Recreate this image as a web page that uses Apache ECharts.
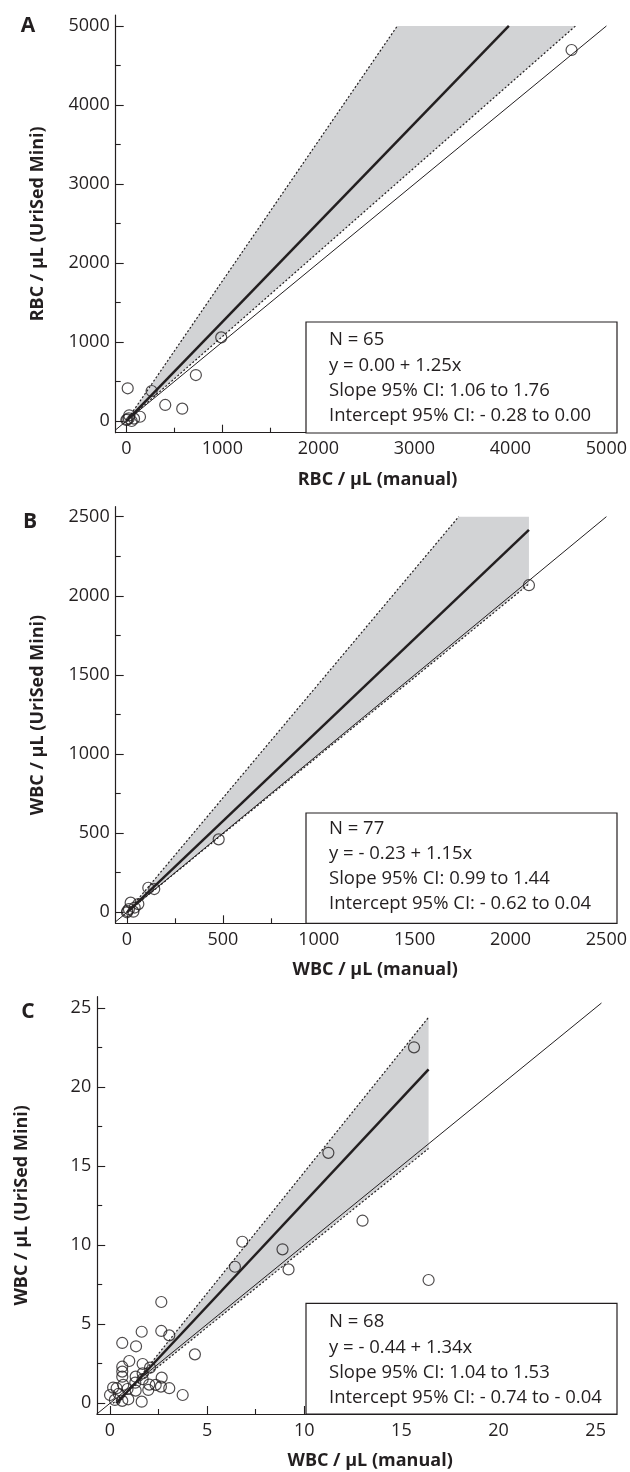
<!DOCTYPE html>
<html>
<head>
<meta charset="utf-8">
<title>UriSed Mini vs manual</title>
<script src="https://cdn.jsdelivr.net/npm/echarts@6/dist/echarts.min.js"></script>
<style>
  html, body { margin: 0; padding: 0; background: #fff; }
  #chart { width: 630px; height: 1472px; }
</style>
</head>
<body>
<div id="chart"></div>
<script>
// ---- data ----
// panel A: RBC
var rbcManual = [0, 55, 30, 142, 14, 263, 405, 582, 724, 988, 4637, 10, 25, 80];
var rbcMini = [13, 0, 72, 54, 414, 380, 203, 156, 582, 1059, 4696, 20, 35, 30];
var rbcReg = [[0, 0], [3984, 5000]];
var rbcUpper = [[0, 0], [2822, 5000]];
var rbcLower = [[0, 0], [4678, 5000]];
var rbcBand = [[0, 0], [2822, 5000], [4678, 5000]];
var rbcIdentity = [[-200, -200], [5000, 5000]];

// panel B: WBC
var wbcManual = [0, 2, 33, 19, 59, 111, 142, 478, 2096, 10, 40];
var wbcMini = [0, 8, 4, 61, 52, 155, 147, 461, 2067, 20, 30];
var wbcReg = [[0, 0], [2096, 2417]];
var wbcUpper = [[0, 0], [1730, 2500]];
var wbcLower = [[0, 0], [2096, 2075]];
var wbcBand = [[0, 0], [1730, 2500], [2096, 2500], [2096, 2075]];
var wbcIdentity = [[-100, -100], [2500, 2500]];

// panel C: WBC, low range
var wbcLowManual = [15.65, 11.24, 13.0, 16.4, 6.81, 6.43, 8.88, 9.19, 4.37, 2.64, 1.63, 2.64, 3.05,
  0.63, 1.34, 0.99, 1.68, 2.06, 0.63, 0.63, 0.63, 1.32, 1.68, 1.68, 2.66, 0.68, 2.02, 2.35, 2.62,
  3.05, 1.97, 1.32, 0.34, 0.16, 0, 0.94, 0.63, 0.25, 1.63, 3.74, 0.45, 1.3, 0.9];
var wbcLowMini = [22.5, 15.83, 11.54, 7.79, 10.21, 8.63, 9.73, 8.46, 3.09, 6.4, 4.52, 4.57, 4.29,
  3.81, 3.6, 2.67, 2.48, 2.25, 2.31, 2.0, 1.68, 1.68, 1.89, 1.52, 1.62, 1.16, 1.18, 1.16, 1.05,
  0.95, 0.84, 0.80, 0.95, 0.99, 0.52, 0.25, 0.15, 0.21, 0.1, 0.52, 0.6, 1.3, 0.9];
var lowReg = [[0.33, 0], [16.4, 21.1]];
var lowUpper = [[0.45, 0], [16.4, 24.4]];
var lowLower = [[0.15, 0], [16.4, 16.1]];
var lowBand = [[0.45, 0], [16.4, 24.4], [16.4, 16.1], [0.15, 0]];
var lowIdentity = [[-1, -1], [25.3, 25.3]];

// ticks
var ticksA = [0, 1000, 2000, 3000, 4000, 5000];
var minorA = [500, 1500, 2500, 3500, 4500];
var ticksB = [0, 500, 1000, 1500, 2000, 2500];
var minorB = [250, 750, 1250, 1750, 2250];
var ticksC = [0, 5, 10, 15, 20, 25];
var minorC = [2.5, 7.5, 12.5, 17.5, 22.5];

var statsA = ['N = 65', 'y = 0.00 + 1.25x', 'Slope 95% CI: 1.06 to 1.76', 'Intercept 95% CI: - 0.28 to 0.00'];
var statsB = ['N = 77', 'y = - 0.23 + 1.15x', 'Slope 95% CI: 0.99 to 1.44', 'Intercept 95% CI: - 0.62 to 0.04'];
var statsC = ['N = 68', 'y = - 0.44 + 1.34x', 'Slope 95% CI: 1.04 to 1.53', 'Intercept 95% CI: - 0.74 to - 0.04'];

var ink = '#231f20';
var bandColor = '#d2d3d5';
var font = 'Open Sans';

function zip(a, b) {
  var out = [];
  for (var i = 0; i < a.length; i++) {
    out.push([a[i], b[i]]);
  }
  return out;
}

// main axis (line, labels, long ticks) + a second one for the short ticks
function axes(dim, g, min, max, majors, minors, name, nameGap, pad, margin) {
  var pos = dim == 'x' ? 'bottom' : 'left';
  var padding = dim == 'x' ? [0, 0, 0, pad] : [0, 0, 0, 0];
  return [{
    type: 'value', gridIndex: g, min: min, max: max, position: pos,
    axisLine: { show: true, onZero: false, lineStyle: { color: ink, width: 1.2 } },
    axisTick: { show: true, inside: true, length: 8, customValues: majors, lineStyle: { color: ink, width: 1.1 } },
    axisLabel: {
      show: true, customValues: majors, margin: margin, color: ink, fontFamily: font, fontSize: 18,
      formatter: function (v) { return String(v); }
    },
    splitLine: { show: false },
    name: name, nameLocation: 'middle', nameGap: nameGap,
    nameTextStyle: { color: ink, fontFamily: font, fontSize: 18, fontWeight: 'bold', padding: padding }
  }, {
    type: 'value', gridIndex: g, min: min, max: max, position: pos,
    axisLine: { show: false, onZero: false },
    axisTick: { show: true, inside: true, length: 5, customValues: minors, lineStyle: { color: ink, width: 1.1 } },
    axisLabel: { show: false },
    splitLine: { show: false }
  }];
}

function lineSeries(g, data, width, type) {
  return {
    type: 'line', xAxisIndex: g * 2, yAxisIndex: g * 2, data: data,
    symbol: 'none', clip: true, silent: true,
    lineStyle: { color: ink, width: width, type: type }
  };
}

function bandSeries(g, pts) {
  return {
    type: 'custom', xAxisIndex: g * 2, yAxisIndex: g * 2, clip: true, silent: true,
    data: [pts[0]],
    renderItem: function (params, api) {
      var p = [];
      for (var i = 0; i < pts.length; i++) p.push(api.coord(pts[i]));
      return { type: 'polygon', shape: { points: p }, style: { fill: bandColor } };
    }
  };
}

function scatterSeries(g, data) {
  return {
    type: 'scatter', xAxisIndex: g * 2, yAxisIndex: g * 2, data: data,
    symbol: 'circle', symbolSize: 11, silent: true,
    itemStyle: { color: 'rgba(0,0,0,0)', borderColor: ink, borderWidth: 1.2 }
  };
}

function panelSeries(g, band, identity, upper, lower, reg, pts) {
  return [
    bandSeries(g, band),
    lineSeries(g, identity, 1, 'solid'),
    lineSeries(g, upper, 1.2, [2, 2]),
    lineSeries(g, lower, 1.2, [2, 2]),
    lineSeries(g, reg, 2.5, 'solid'),
    scatterSeries(g, pts)
  ];
}

// white box with the regression summary
function statBox(top, bottom, lines, ys) {
  var els = [{
    type: 'rect', z: 100,
    shape: { x: 306, y: top, width: 311, height: bottom - top },
    style: { fill: '#fff', stroke: ink, lineWidth: 1.2 }
  }];
  for (var i = 0; i < lines.length; i++) {
    els.push({
      type: 'text', z: 101, x: 329, y: ys[i],
      style: { text: lines[i], fill: ink, font: '18.5px "' + font + '"', verticalAlign: 'middle' }
    });
  }
  return els;
}

function letter(t, x, y) {
  return {
    type: 'text', z: 101, x: x, y: y,
    style: { text: t, fill: ink, font: 'bold 21px "' + font + '"', align: 'center', verticalAlign: 'middle' }
  };
}

var chart = echarts.init(document.getElementById('chart'), null, { renderer: 'canvas' });

var xAxes = [].concat(
  axes('x', 0, -111, 5105, ticksA, minorA, 'RBC / µL (manual)', 38, 23, 7),
  axes('x', 1, -59, 2553, ticksB, minorB, 'WBC / µL (manual)', 38, 18, 8),
  axes('x', 2, -0.66, 26.1, ticksC, minorC, 'WBC / µL (manual)', 38, 26, 8)
);
var yAxes = [].concat(
  axes('y', 0, -148, 5139, ticksA, minorA, 'RBC / µL (UriSed Mini)', 69, 0, 6),
  axes('y', 1, -69.5, 2563, ticksB, minorB, 'WBC / µL (UriSed Mini)', 69, 0, 6),
  axes('y', 2, -0.68, 25.7, ticksC, minorC, 'WBC / µL (UriSed Mini)', 66, 0, 6)
);

var graphics = [].concat(
  statBox(322, 433, statsA, [340, 365.7, 390.7, 416]),
  statBox(813, 923.3, statsB, [828.3, 854, 879, 904]),
  statBox(1303.3, 1414, statsC, [1321.7, 1347.3, 1372.3, 1397.7]),
  [letter('A', 28, 26), letter('B', 30, 521.7), letter('C', 28, 1011.7)]
);

var option = {
  animation: false,
  backgroundColor: '#fff',
  textStyle: { fontFamily: font },
  grid: [
    { left: 115.7, top: 15, width: 501.3, height: 417.7 },
    { left: 115.7, top: 506.7, width: 501.3, height: 416.6 },
    { left: 97.2, top: 996.7, width: 519.8, height: 417.3 }
  ],
  xAxis: xAxes,
  yAxis: yAxes,
  graphic: graphics,
  series: [].concat(
    panelSeries(0, rbcBand, rbcIdentity, rbcUpper, rbcLower, rbcReg, zip(rbcManual, rbcMini)),
    panelSeries(1, wbcBand, wbcIdentity, wbcUpper, wbcLower, wbcReg, zip(wbcManual, wbcMini)),
    panelSeries(2, lowBand, lowIdentity, lowUpper, lowLower, lowReg, zip(wbcLowManual, wbcLowMini))
  )
};

chart.setOption(option);
</script>
</body>
</html>
